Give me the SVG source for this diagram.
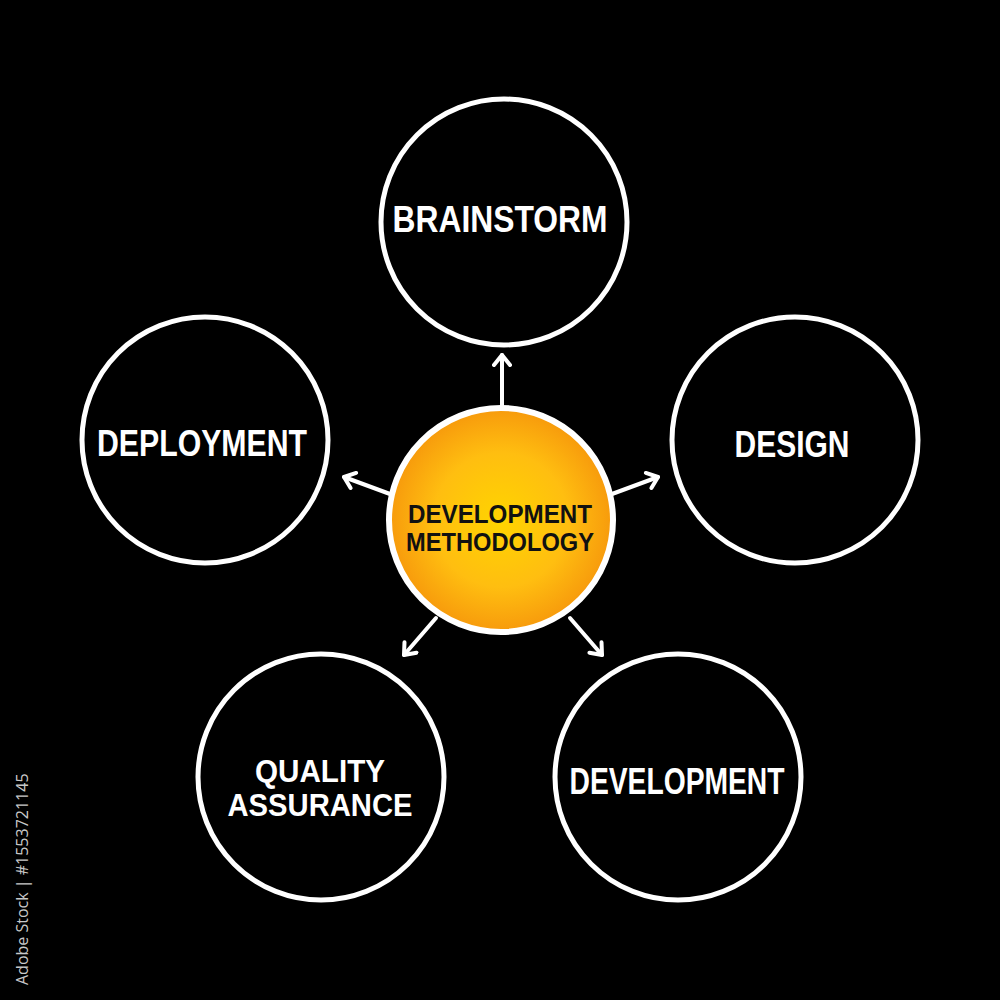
<svg xmlns="http://www.w3.org/2000/svg" width="1000" height="1000" viewBox="0 0 1000 1000">
<defs>
<radialGradient id="hub" cx="50%" cy="50%" r="50%">
<stop offset="0" stop-color="#FFD400"/>
<stop offset="0.6" stop-color="#FFBE10"/>
<stop offset="1" stop-color="#F79A0C"/>
</radialGradient>
<marker id="arr" viewBox="0 0 20 20" refX="14" refY="10" markerWidth="20" markerHeight="20" markerUnits="userSpaceOnUse" orient="auto">
<polyline points="4,2 14,10 4,18" fill="none" stroke="#fff" stroke-width="4" stroke-linecap="round" stroke-linejoin="round"/>
</marker>
<style>
.ring{fill:#000;stroke:#fff;stroke-width:5}
.lbl{font-family:"Liberation Sans","DejaVu Sans",sans-serif;font-weight:bold;fill:#fff;text-anchor:middle}
.hubt{font-family:"Liberation Sans","DejaVu Sans",sans-serif;font-weight:bold;fill:#111;text-anchor:middle}
.con{stroke:#fff;stroke-width:4;fill:none;stroke-linecap:round;marker-end:url(#arr)}
</style>
</defs>
<rect width="1000" height="1000" fill="#000"/>
<g id="connectors">
<line class="con" x1="502" y1="406" x2="502" y2="355"/>
<line class="con" x1="390" y1="494" x2="344" y2="477"/>
<line class="con" x1="612" y1="494" x2="658" y2="477"/>
<line class="con" x1="436" y1="618" x2="404" y2="655"/>
<line class="con" x1="570" y1="618" x2="602" y2="655"/>
</g>
<g id="hub-node">
<circle cx="501" cy="520" r="112" fill="url(#hub)" stroke="#fff" stroke-width="6"/>
<text class="hubt" x="500" y="523" font-size="26" textLength="184" lengthAdjust="spacingAndGlyphs">DEVELOPMENT</text>
<text class="hubt" x="500" y="551" font-size="26" textLength="188" lengthAdjust="spacingAndGlyphs">METHODOLOGY</text>
</g>
<g id="node-brainstorm">
<circle class="ring" cx="504" cy="222" r="123"/>
<text class="lbl" x="500" y="232" font-size="37" textLength="215" lengthAdjust="spacingAndGlyphs">BRAINSTORM</text>
</g>
<g id="node-deployment">
<circle class="ring" cx="205" cy="440" r="123"/>
<text class="lbl" x="202" y="456" font-size="37" textLength="210" lengthAdjust="spacingAndGlyphs">DEPLOYMENT</text>
</g>
<g id="node-design">
<circle class="ring" cx="795" cy="440" r="123"/>
<text class="lbl" x="792" y="457" font-size="37" textLength="115" lengthAdjust="spacingAndGlyphs">DESIGN</text>
</g>
<g id="node-qa">
<circle class="ring" cx="321" cy="777" r="123"/>
<text class="lbl" x="320" y="782" font-size="32" textLength="130" lengthAdjust="spacingAndGlyphs">QUALITY</text>
<text class="lbl" x="320" y="816" font-size="32" textLength="185" lengthAdjust="spacingAndGlyphs">ASSURANCE</text>
</g>
<g id="node-development">
<circle class="ring" cx="678" cy="777" r="123"/>
<text class="lbl" x="677" y="794" font-size="37" textLength="215" lengthAdjust="spacingAndGlyphs">DEVELOPMENT</text>
</g>
<text transform="translate(28,985) rotate(-90)" font-family="'Open Sans','DejaVu Sans',sans-serif" font-size="16" fill="#c8c8c8">Adobe Stock | #1553721145</text>
</svg>
